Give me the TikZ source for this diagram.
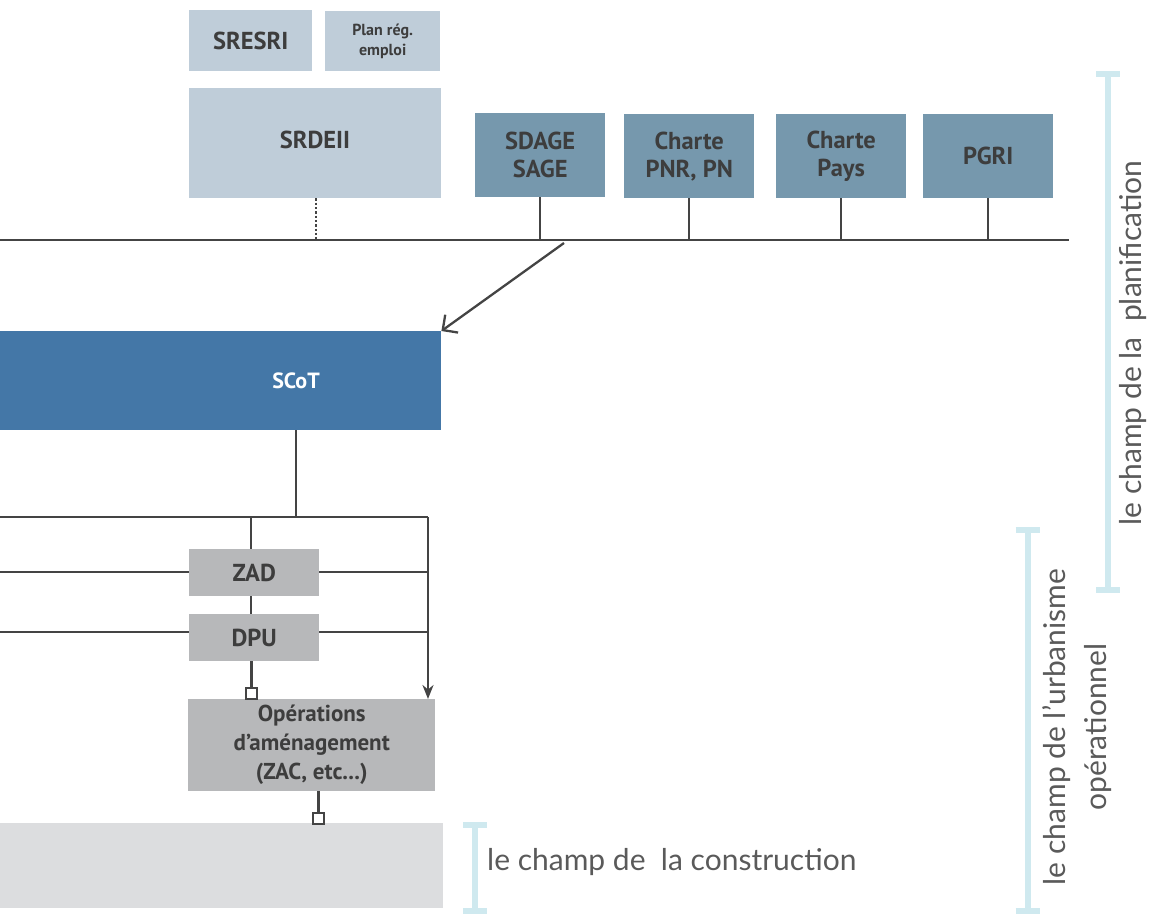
\documentclass[tikz,border=0pt]{standalone}
\usepackage{fontspec}
\setmainfont{PT Sans}
\newfontfamily\boxfont{PT Sans}
\newfontfamily\sidefont{Lato}
\usetikzlibrary{arrows.meta,calc}
\definecolor{lblue}{HTML}{BFCDD9}
\definecolor{mblue}{HTML}{7698AD}
\definecolor{scotblue}{HTML}{4477A7}
\definecolor{gbox}{HTML}{B7B8BA}
\definecolor{lgray}{HTML}{DCDDDF}
\definecolor{linec}{HTML}{444444}
\definecolor{txt}{HTML}{3D3D3D}
\definecolor{brk}{HTML}{CFE9EF}
\tikzset{
  box/.style={draw=none, inner sep=0pt, anchor=north west, align=center, text=txt,
    font=\boxfont\bfseries\fontsize{24.5}{28}\selectfont},
  smallbox/.style={box, font=\boxfont\bfseries\fontsize{16}{20}\selectfont},
  conn/.style={draw=linec, line width=2.3pt},
  sq/.style={draw=linec, fill=white, line width=2pt, minimum size=11pt, inner sep=0pt},
  brkline/.style={draw=brk, line width=6pt},
  serif/.style={draw=brk, line width=5.5pt},
  side/.style={text=txt!85, inner sep=0pt, font=\sidefont\fontsize{30}{41}\selectfont},
}
\begin{document}
\begin{tikzpicture}[x=1pt,y=-1pt]
\useasboundingbox (0,0) rectangle (1151,915);
% top boxes
\node[box, fill=lblue, minimum width=123pt, minimum height=61pt] (sresri) at (189,10) {SRESRI};
\node[smallbox, fill=lblue, minimum width=115pt, minimum height=60pt] (plan) at (325,11) {Plan rég.\\emploi};
\node[box, fill=lblue, minimum width=252pt, minimum height=110pt] (srdeii) at (189,88) {};
\node[text=txt, inner sep=0pt, font=\boxfont\bfseries\fontsize{24.5}{28}\selectfont] (srdeiit) at (315,140) {SRDEII};
\node[box, fill=mblue, minimum width=130pt, minimum height=84pt] (sdage) at (475,113) {SDAGE\\SAGE};
\node[box, fill=mblue, minimum width=130pt, minimum height=84pt] (pnr) at (624,114) {Charte\\PNR, PN};
\node[box, fill=mblue, minimum width=130pt, minimum height=84pt] (pays) at (776,114) {Charte\\Pays};
\node[box, fill=mblue, minimum width=130pt, minimum height=84pt] (pgri) at (923,114) {PGRI};
% bus
\coordinate (busL) at (0,240);
\coordinate (busR) at (1069,240);
\draw[conn] (busL) -- (busR);
\draw[draw=linec, line width=2.3pt, dotted] (srdeii.south -| 316,0) -- (busL -| 316,0);
\draw[conn] (sdage.south) -- (sdage.south |- busL);
\draw[conn] (pnr.south) -- (pnr.south |- busL);
\draw[conn] (pays.south) -- (pays.south |- busL);
\draw[conn] (pgri.south) -- (pgri.south |- busL);
% SCoT
\node[box, fill=scotblue, minimum width=441pt, minimum height=99pt] (scot) at (0,331) {};
\node[text=white, font=\boxfont\bfseries\fontsize{22}{24}\selectfont, inner sep=0pt] (scott) at (296,381) {SCoT};
\coordinate (a1) at (564,243);
\draw[conn, -{Straight Barb[length=11pt,width=22pt]}] (a1) -- (scot.north east);
% distribution
\coordinate (hub) at (296,517);
\coordinate (hubL) at (0,517);
\coordinate (hubR) at (428,517);
\coordinate (zx) at (251,517);
\draw[conn] (scott |- scot.south) -- (hub);
\node[box, fill=gbox, minimum width=130pt, minimum height=47pt] (zad) at (189,549) {ZAD};
\node[box, fill=gbox, minimum width=130pt, minimum height=47pt] (dpu) at (189,614) {DPU};
\node[box, fill=gbox, minimum width=247pt, minimum height=92pt, font=\boxfont\bfseries\fontsize{23}{29}\selectfont] (ope) at (188,699) {Opérations\\d’aménagement\\(ZAC, etc...)};
\node[box, fill=lgray, minimum width=443pt, minimum height=85pt] (constr) at (0,823) {};
\draw[conn] (hubL) -- (hubR);
\draw[conn, -{Stealth[length=14pt,width=11pt]}] (hubR) -- (ope.north -| hubR);
\draw[conn] (zx) -- (zx |- zad.north);
\draw[conn] (zx |- zad.south) -- (zx |- dpu.north);
\coordinate (L1) at (0,572);
\coordinate (L2) at (0,632);
\draw[conn] (L1) -- (L1 -| zad.west);
\draw[conn] (L1 -| zad.east) -- (L1 -| hubR);
\draw[conn] (L2) -- (L2 -| dpu.west);
\draw[conn] (L2 -| dpu.east) -- (L2 -| hubR);
\node[sq] (sq1) at (251.5,693.5) {};
\node[sq] (sq2) at (318.5,818) {};
\draw[conn] (sq1 |- dpu.south) -- (sq1.north);
\draw[conn] (sq2 |- ope.south) -- (sq2.north);
% brackets
\coordinate (b1t) at (475,825); \coordinate (b1b) at (475,911);
\draw[brkline] (b1t) -- (b1b);
\draw[serif] ($(b1t)+(-12,0)$) -- ($(b1t)+(12,0)$);
\draw[serif] ($(b1b)+(-12,0)$) -- ($(b1b)+(12,0)$);
\coordinate (b2t) at (1027.5,530); \coordinate (b2b) at (1027.5,911);
\draw[brkline] (b2t) -- (b2b);
\draw[serif] ($(b2t)+(-12,0)$) -- ($(b2t)+(12,0)$);
\draw[serif] ($(b2b)+(-12,0)$) -- ($(b2b)+(12,0)$);
\coordinate (b3t) at (1108,74); \coordinate (b3b) at (1108,590);
\draw[brkline] (b3t) -- (b3b);
\draw[serif] ($(b3t)+(-12,0)$) -- ($(b3t)+(12,0)$);
\draw[serif] ($(b3b)+(-12,0)$) -- ($(b3b)+(12,0)$);
% side labels
\node[side, anchor=west] (tcons) at (487,862) {le champ de~~la construction};
\node[side, rotate=90, align=center] (turb) at (1077,727) {le champ de l’urbanisme\\opérationnel};
\node[side, rotate=90] (tplan) at (1133,343) {le champ de la~~planification};
\end{tikzpicture}
\end{document}
